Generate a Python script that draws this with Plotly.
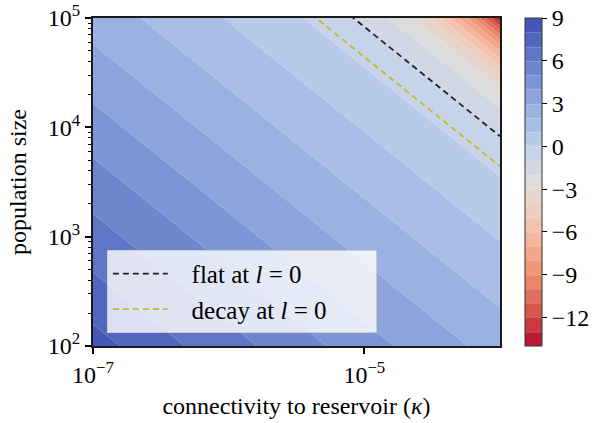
import numpy as np
import plotly.graph_objects as go

# log10 of connectivity (kappa) and of population size N on the grid
kappa_exp = [-7.0, -6.875, -6.75, -6.625, -6.5, -6.375, -6.25, -6.125, -6.0,
             -5.875, -5.75, -5.625, -5.5, -5.375, -5.25, -5.125, -5.0,
             -4.875, -4.75, -4.625, -4.5, -4.375, -4.25, -4.125, -4.0]
N_exp = [2.0, 2.125, 2.25, 2.375, 2.5, 2.625, 2.75, 2.875, 3.0,
         3.125, 3.25, 3.375, 3.5, 3.625, 3.75, 3.875, 4.0,
         4.125, 4.25, 4.375, 4.5, 4.625, 4.75, 4.875, 5.0]

# value read along the diagonal log10(kappa*N) = -5 ... 1 (step 0.125)
diag_values = [8.40, 8.15, 7.89, 7.63, 7.36, 7.10, 6.85, 6.62, 6.39, 6.16,
               5.92, 5.68, 5.43, 5.19, 4.94, 4.69, 4.44, 4.19, 3.94, 3.71,
               3.48, 3.25, 3.02, 2.81, 2.59, 2.38, 2.17, 1.96, 1.75, 1.55,
               1.34, 1.14, 0.93, 0.73, 0.52, 0.32, 0.11, -0.16, -0.51, -0.87,
               -1.30, -1.76, -2.35, -3.12, -4.18, -5.88, -7.80, -10.51, -13.90]

# kappa*N along the two dashed reference lines
flat_kappaN = 0.83
decay_kappaN = 0.44

x_ticks = [-7, -5]
x_ticktext = ["10<sup>\u22127</sup>", "10<sup>\u22125</sup>"]
y_ticks = [2, 3, 4, 5]
y_ticktext = ["10<sup>2</sup>", "10<sup>3</sup>", "10<sup>4</sup>", "10<sup>5</sup>"]
cbar_ticks = [9, 6, 3, 0, -3, -6, -9, -12]

z = [[diag_values[i + j] for i in range(len(kappa_exp))] for j in range(len(N_exp))]

colors_r = [
    [0.0, "rgb(180,10,40)"], [0.1, "rgb(212,84,70)"], [0.2, "rgb(236,134,106)"],
    [0.3, "rgb(245,174,145)"], [0.4, "rgb(240,204,186)"], [0.5, "rgb(221,220,220)"],
    [0.6, "rgb(194,210,237)"], [0.7, "rgb(160,183,228)"], [0.8, "rgb(125,152,214)"],
    [0.9, "rgb(91,115,196)"], [1.0, "rgb(62,79,178)"],
]

FONT = "Liberation Serif"
NB = "\u00a0"

fig = go.Figure()
fig.add_trace(go.Contour(
    x=kappa_exp, y=N_exp, z=z,
    autocontour=False,
    contours=dict(start=-14, end=9, size=1, coloring="fill", showlines=True),
    line=dict(width=0.6, color="rgba(255,255,255,0.35)"),
    zmin=-14, zmax=9,
    colorscale=colors_r,
    showlegend=False,
    hoverinfo="skip",
    colorbar=dict(
        x=1.0614, xanchor="left", xref="paper", xpad=0, ypad=0,
        y=0.5, yanchor="middle", len=1.0, lenmode="fraction",
        thickness=17, outlinewidth=1, outlinecolor="#333333",
        tickmode="array", tickvals=cbar_ticks,
        ticks="outside", ticklen=5, tickwidth=1.2, tickcolor="black",
        tickfont=dict(family=FONT, size=24, color="black"),
    ),
))

xs = np.array(kappa_exp)
fig.add_trace(go.Scatter(
    x=xs, y=np.log10(flat_kappaN) - xs, mode="lines",
    line=dict(color="#222222", width=1.8, dash="6px,4px"),
    name=NB * 3 + "flat at <i>l</i> = 0",
))
fig.add_trace(go.Scatter(
    x=xs, y=np.log10(decay_kappaN) - xs, mode="lines",
    line=dict(color="#bcbd22", width=1.8, dash="6px,4px"),
    name=NB * 3 + "decay at <i>l</i> = 0" + NB * 7,
))

minor_y = [float(np.log10(k) + d) for d in (2, 3, 4) for k in range(2, 10)]

fig.update_layout(
    width=592, height=423,
    margin=dict(l=93, r=92, t=18, b=77, autoexpand=False),
    paper_bgcolor="white", plot_bgcolor="white",
    font=dict(family=FONT, size=20, color="black"),
    legend=dict(
        x=0.034, y=0.04, xanchor="left", yanchor="bottom",
        bgcolor="rgba(255,255,255,0.8)", bordercolor="#cccccc", borderwidth=1,
        font=dict(family=FONT, size=25, color="black"),
        itemwidth=55,
    ),
    xaxis=dict(
        range=[-7, -4], tickmode="array", tickvals=x_ticks, ticktext=x_ticktext,
        ticks="outside", ticklen=6, tickwidth=1.5, tickcolor="black",
        tickfont=dict(size=24),
        showline=True, linewidth=2, linecolor="#1a1a1a", mirror=True,
        showgrid=False, zeroline=False,
        title=dict(text="connectivity to reservoir (<i>\u03ba</i>)", standoff=10),
    ),
    yaxis=dict(
        range=[2, 5], tickmode="array", tickvals=y_ticks, ticktext=y_ticktext,
        ticks="outside", ticklen=6, tickwidth=1.5, tickcolor="black",
        tickfont=dict(size=24),
        minor=dict(tickvals=minor_y, ticks="outside", ticklen=3, tickwidth=1, tickcolor="black"),
        showline=True, linewidth=2, linecolor="#1a1a1a", mirror=True,
        showgrid=False, zeroline=False,
        title=dict(text="population size", standoff=14),
    ),
)

fig.write_html(
    "out.html",
    config={"displayModeBar": False},
    post_script="document.body.style.margin='0';document.body.style.overflow='hidden';",
)
